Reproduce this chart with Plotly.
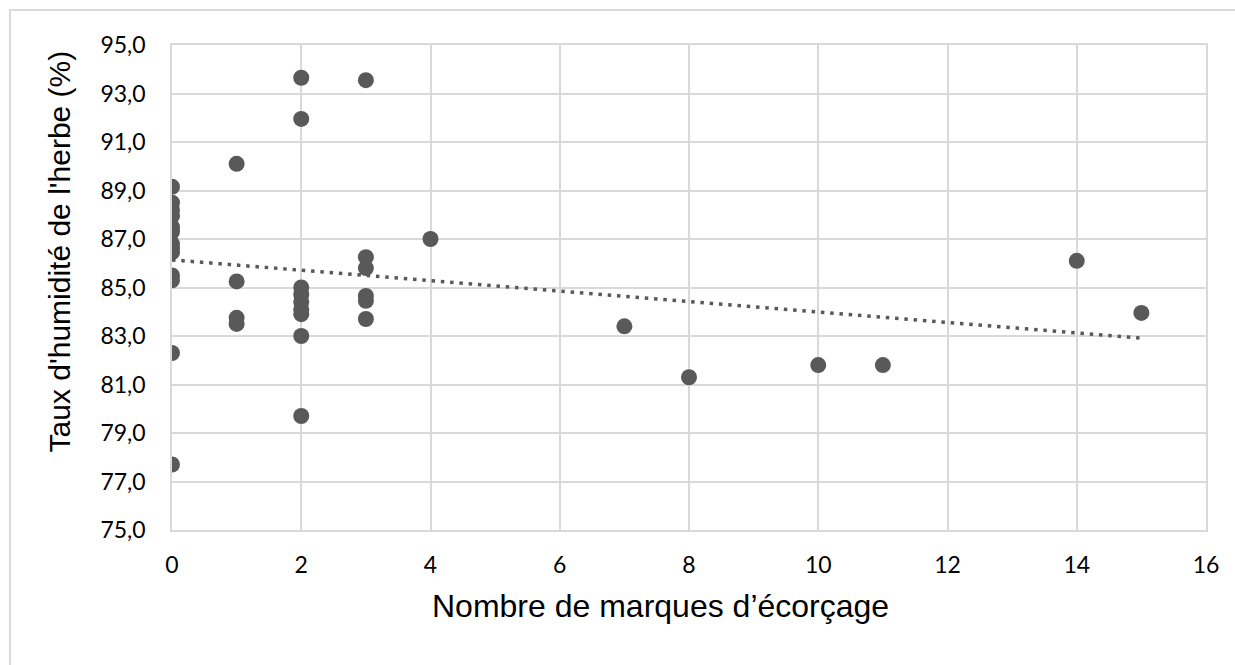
import numpy as np
import plotly.graph_objects as go

# Number of debarking marks per tree and grass moisture content (%)
marques = [0, 0, 0, 0, 0, 0, 0, 0, 0, 0, 0, 0, 0,
           1, 1, 1, 1,
           2, 2, 2, 2, 2, 2, 2, 2, 2,
           3, 3, 3, 3, 3, 3,
           4, 7, 8, 10, 11, 14, 15]
humidite = [89.15, 88.5, 88.2, 87.95, 87.5, 87.3, 86.8, 86.6, 86.45, 85.5, 85.3, 82.3, 77.7,
            90.1, 85.25, 83.75, 83.5,
            93.65, 91.95, 85.0, 84.7, 84.4, 84.1, 83.9, 83.0, 79.7,
            93.55, 86.25, 85.8, 84.65, 84.45, 83.7,
            87.0, 83.4, 81.3, 81.8, 81.8, 86.1, 83.95]

x_ticks = [0, 2, 4, 6, 8, 10, 12, 14, 16]
y_ticks = [75, 77, 79, 81, 83, 85, 87, 89, 91, 93, 95]
y_tick_labels = ["75,0", "77,0", "79,0", "81,0", "83,0", "85,0",
                 "87,0", "89,0", "91,0", "93,0", "95,0"]

x_title = "Nombre de marques d’écorçage"
y_title = "Taux d'humidité de l'herbe (%)"

# Linear trendline (least squares) over the observed range
pente, origine = np.polyfit(marques, humidite, 1)
x_trend = [min(marques), max(marques)]
y_trend = [origine + pente * v for v in x_trend]

mark_color = "#595959"
grid_color = "#d9d9d9"

fig = go.Figure()
fig.add_trace(go.Scatter(
    x=x_trend, y=y_trend, mode="lines",
    line=dict(color=mark_color, width=3.5, dash="3.5px,5.8px"),
    hoverinfo="skip", showlegend=False,
))
fig.add_trace(go.Scatter(
    x=marques, y=humidite, mode="markers",
    marker=dict(color=mark_color, size=16, line=dict(width=0)),
    showlegend=False,
))

tick_font = dict(family="Lato, 'Open Sans', sans-serif", size=23, color="#000000")
title_family = "'Liberation Sans', Arial, sans-serif"

fig.update_xaxes(
    range=[0, 16], tickvals=x_ticks, ticktext=[str(v) for v in x_ticks],
    showgrid=True, gridcolor=grid_color, gridwidth=1.5,
    showline=True, linecolor=grid_color, linewidth=1.5, mirror=True,
    zeroline=False, ticks="", tickfont=tick_font, ticklabelstandoff=14,
)
fig.update_yaxes(
    range=[75, 95], tickvals=y_ticks, ticktext=y_tick_labels,
    showgrid=True, gridcolor=grid_color, gridwidth=1.5,
    showline=True, linecolor=grid_color, linewidth=1.5, mirror=True,
    zeroline=False, ticks="", tickfont=tick_font, ticklabelstandoff=20,
)

# Axis titles
fig.add_annotation(
    text=x_title, xref="paper", yref="paper", x=0.472, y=-0.157,
    xanchor="center", yanchor="middle", showarrow=False,
    font=dict(family=title_family, size=32, color="#000000"),
)
fig.add_annotation(
    text=y_title, xref="paper", yref="paper", x=-0.109, y=0.575,
    xanchor="center", yanchor="middle", showarrow=False, textangle=-90,
    font=dict(family=title_family, size=30, color="#000000"),
)

# Outer chart frame (top and left edges visible)
fig.add_shape(
    type="rect", xref="paper", yref="paper",
    x0=-0.1567, y0=-0.32, x1=1.05, y1=1.0722,
    line=dict(color="#d9d9d9", width=2), layer="below",
)

fig.update_layout(
    width=1235, height=665,
    margin=dict(l=172, r=29, t=45, b=135),
    paper_bgcolor="#ffffff", plot_bgcolor="#ffffff",
)

fig.write_html("out.html")
